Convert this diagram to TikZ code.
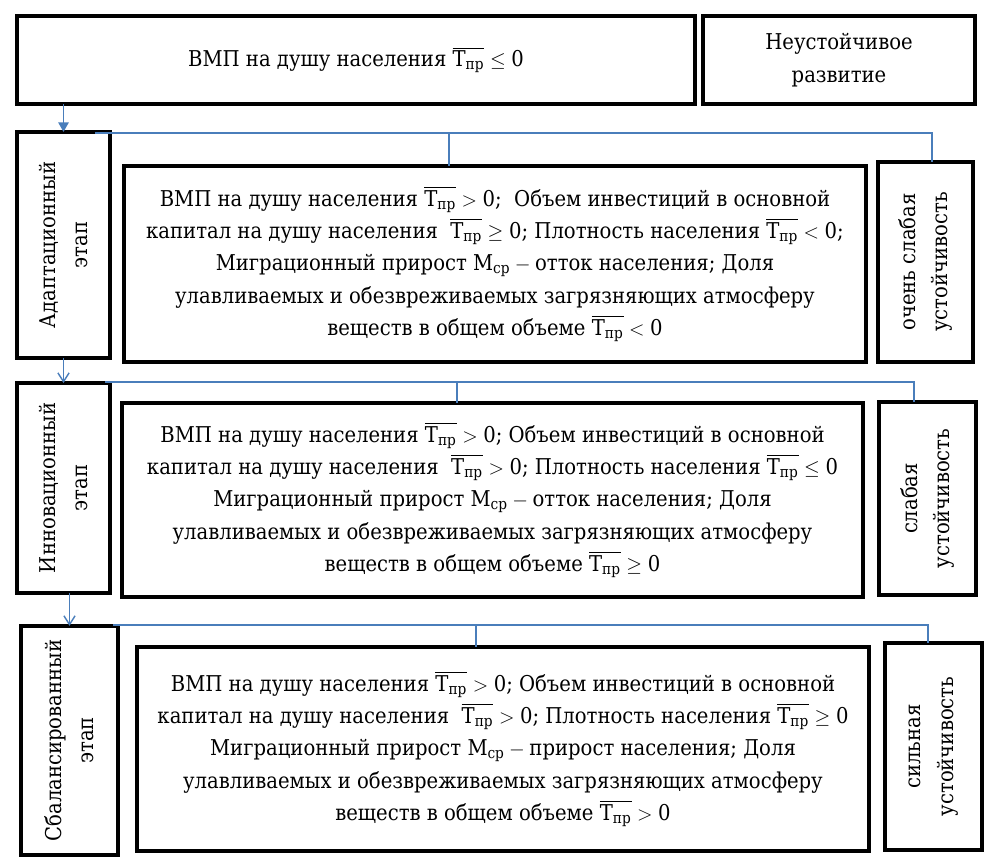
\documentclass[tikz,border=0pt]{standalone}
\usepackage{amsmath}
\usepackage{fontspec}
\IfFontExistsTF{DejaVu Serif Condensed}
  {\setmainfont{DejaVu Serif Condensed}}
  {\setmainfont{DejaVu Serif}}
\usetikzlibrary{arrows.meta,calc}
\definecolor{linkblue}{HTML}{4A7EBB}
\newcommand{\Tpr}{\overline{\text{T}_{\text{пр}}}}
\newcommand{\Mcp}{\text{М}_{\text{ср}}}
\newcommand{\nul}{\text{0}}

\begin{document}
\begin{tikzpicture}[
        x=0.025cm,y=-0.025cm,
        box/.style={draw=black,line width=2.8pt,align=center,inner sep=0pt,
          outer sep=0pt,font=\fontsize{15.5}{23}\selectfont},
        vbox/.style={box,rotate=90},
        link/.style={draw=linkblue,line width=1pt},
        arr/.style={draw=linkblue,line width=1pt,-{Straight Barb[length=2.2mm,width=2.8mm]}},
        arrfill/.style={draw=linkblue,line width=1pt,-{Triangle[length=2.4mm,width=2.6mm]}}
      ]
        \useasboundingbox (0,0) rectangle (995,865);

        % top row
        \node[box,minimum width=16.95cm,minimum height=2.2cm] (topL) at (356,60)
          {ВМП на душу населения $\Tpr\leq \nul$};
        \node[box,minimum width=6.8cm,minimum height=2.2cm] (topR) at (839,60)
          {Неустойчивое\\развитие};

        % stage 1
        \node[vbox,minimum width=5.65cm,minimum height=2.33cm] (st1) at (63.5,245)
          {Адаптационный\\этап};
        \node[box,minimum width=18.55cm,minimum height=4.9cm] (in1) at (495,264)
          {ВМП на душу населения $\Tpr>\nul$;\ \ Объем инвестиций в основной\\
           капитал на душу населения \ $\Tpr\geq \nul$; Плотность населения $\Tpr<\nul$;\\
           Миграционный прирост $\Mcp-{}$отток населения; Доля\\
           улавливаемых и обезвреживаемых загрязняющих атмосферу\\
           веществ в общем объеме $\Tpr<\nul$};
        \node[vbox,minimum width=5cm,minimum height=2.38cm] (r1) at (925.5,262)
          {очень слабая\\устойчивость};

        % stage 2
        \node[vbox,minimum width=5.25cm,minimum height=2.33cm] (st2) at (63.5,488)
          {Инновационный\\этап};
        \node[box,minimum width=18.53cm,minimum height=4.85cm] (in2) at (492.5,500)
          {ВМП на душу населения $\Tpr>\nul$; Объем инвестиций в основной\\
           капитал на душу населения \ $\Tpr>\nul$; Плотность населения $\Tpr\leq \nul$\\
           Миграционный прирост $\Mcp-{}$отток населения; Доля\\
           улавливаемых и обезвреживаемых загрязняющих атмосферу\\
           веществ в общем объеме $\Tpr\geq \nul$};
        \node[vbox,minimum width=4.83cm,minimum height=2.43cm] (r2) at (927.5,498.5)
          {слабая\\устойчивость};

        % stage 3
        \node[vbox,minimum width=5.73cm,minimum height=2.43cm] (st3) at (69.5,740.5)
          {Сбалансированный\\этап};
        \node[box,minimum width=18.3cm,minimum height=5.1cm] (in3) at (503,749)
          {ВМП на душу населения $\Tpr>\nul$; Объем инвестиций в основной\\
           капитал на душу населения \ $\Tpr>\nul$; Плотность населения $\Tpr\geq \nul$\\
           Миграционный прирост $\Mcp-{}$прирост населения; Доля\\
           улавливаемых и обезвреживаемых загрязняющих атмосферу\\
           веществ в общем объеме $\Tpr>\nul$};
        \node[vbox,minimum width=5.18cm,minimum height=2.43cm] (r3) at (933.5,746.5)
          {сильная\\устойчивость};

        % arrows between stages (rotated boxes: east is the top edge)
        \draw[arrfill] (st1.east |- topL.south) -- (st1.east);
        \draw[arr] (st1.west) -- (st2.east);
        \draw[arr] (st3.east |- st2.west) -- (st3.east);

        % branch lines
        \coordinate (t1) at ($(in1.north)+(-46,0)$);
        \coordinate (t2) at ($(in2.north)+(-35.5,0)$);
        \coordinate (t3) at ($(in3.north)+(-27,0)$);
        \draw[link] ($(st1.south east)+(-15,1)$) -| ($(r1.east)+(6.5,0)$);
        \draw[link] (t1) -- (t1 |- st1.south east);
        \draw[link] ($(st2.south east)+(-5,-1)$) -| ($(r2.east)+(-13.5,0)$);
        \draw[link] (t2) -- (t2 |- st2.south east);
        \draw[link] ($(st3.south east)+(-5,-1)$) -| ($(r3.east)+(-5.5,0)$);
        \draw[link] (t3) -- (t3 |- st3.south east);
      \end{tikzpicture}
\end{document}
